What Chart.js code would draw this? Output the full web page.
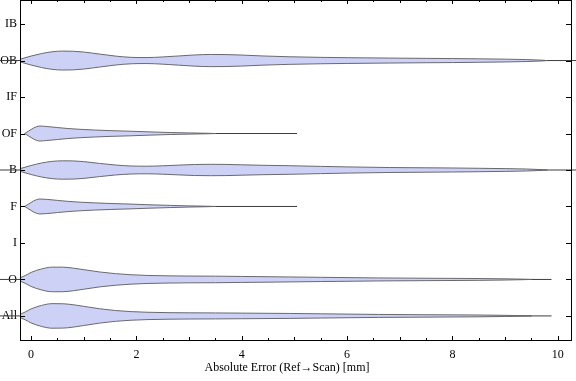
<!DOCTYPE html>
<html>
<head>
<meta charset="utf-8">
<script src="https://cdn.jsdelivr.net/npm/chart.js@4"></script>
<style>
html,body{margin:0;padding:0;background:#fff;}
#wrap{width:576px;height:381px;}
</style>
</head>
<body>
<div id="wrap"><canvas id="c" width="576" height="381"></canvas></div>
<script>
// ---- data ----
const categories = ['All','O','I','F','B','OF','IF','OB','IB'];
const xTickLabels = [0,2,4,6,8,10];
const axisTitle = 'Absolute Error (Ref\u2192Scan) [mm]';

// violin sample positions (mm) and half-widths (category units)
const obX   = [-0.3,-0.2,0,0.2,0.4,0.6,0.8,1.0,1.3,1.6,1.9,2.2,2.5,2.8,3.1,3.4,3.7,4.0,4.4,4.9,5.5,6.0,6.8,7.5,8.0,8.5,9.0,9.4,9.7,9.8];
const obHalf= [0,0.041,0.123,0.192,0.241,0.260,0.255,0.233,0.178,0.123,0.088,0.082,0.099,0.126,0.153,0.167,0.164,0.151,0.126,0.104,0.088,0.079,0.068,0.060,0.055,0.047,0.038,0.027,0.011,0];
const bX    = obX;
const bHalf = [0,0.041,0.123,0.192,0.236,0.252,0.249,0.230,0.181,0.137,0.110,0.104,0.115,0.134,0.151,0.156,0.153,0.142,0.129,0.118,0.099,0.085,0.068,0.060,0.055,0.047,0.038,0.027,0.011,0];
const oX    = [-0.3,-0.2,-0.1,0,0.2,0.4,0.6,0.8,1.0,1.3,1.6,1.9,2.2,2.6,3.0,3.5,4.0,4.9,5.5,6.6,7.5,8.5,9.0,9.3,9.5];
const oHalf = [0,0.049,0.115,0.192,0.288,0.337,0.337,0.310,0.268,0.205,0.159,0.129,0.110,0.099,0.093,0.090,0.082,0.068,0.058,0.041,0.033,0.025,0.016,0.008,0];
const allX  = oX;
const allHalf=[0,0.049,0.115,0.192,0.288,0.337,0.334,0.307,0.263,0.197,0.148,0.118,0.101,0.090,0.085,0.082,0.077,0.068,0.058,0.041,0.033,0.025,0.016,0.008,0];
const ofX   = [-0.12,0,0.1,0.17,0.3,0.5,0.7,0.93,1.2,1.5,1.88,2.2,2.64,3.0,3.3,3.5];
const ofHalf= [0,0.110,0.186,0.205,0.192,0.164,0.137,0.115,0.096,0.079,0.063,0.047,0.027,0.016,0.008,0];
const fX    = ofX;
const fHalf = [0,0.110,0.186,0.205,0.195,0.167,0.140,0.118,0.099,0.082,0.066,0.049,0.030,0.016,0.008,0];
// whisker line extent (mm)
const obRange  = [-0.59, 10.4];
const bRange   = [-0.59, 10.4];
const oRange   = [-0.59, 9.88];
const allRange = [-0.59, 9.88];
const ofRange  = [-0.12, 5.05];
const fRange   = [-0.12, 5.05];

const violins = [
  {cat:'All', xs:allX, half:allHalf, range:allRange},
  {cat:'O',   xs:oX,   half:oHalf,   range:oRange},
  {cat:'F',   xs:fX,   half:fHalf,   range:fRange},
  {cat:'B',   xs:bX,   half:bHalf,   range:bRange},
  {cat:'OF',  xs:ofX,  half:ofHalf,  range:ofRange},
  {cat:'OB',  xs:obX,  half:obHalf,  range:obRange}
];

const FILL = 'rgb(204,209,245)';
const EDGE = 'rgb(105,105,110)';
const MID  = 'rgb(60,60,60)';
const FONT = "'Liberation Serif', 'DejaVu Serif', serif";

const datasets = [];
violins.forEach(v => {
  const c = categories.indexOf(v.cat);
  datasets.push({
    data: v.xs.map((x,i)=>({x:x, y:c + v.half[i]})),
    borderColor: EDGE, borderWidth: 1, pointRadius: 0, fill: false,
    cubicInterpolationMode: 'monotone', order: 1
  });
  datasets.push({
    data: v.xs.map((x,i)=>({x:x, y:c - v.half[i]})),
    borderColor: EDGE, borderWidth: 1, pointRadius: 0,
    backgroundColor: FILL, fill: '-1',
    cubicInterpolationMode: 'monotone', order: 1
  });
});
violins.forEach(v => {
  const c = categories.indexOf(v.cat);
  datasets.push({
    data: [{x:v.range[0], y:c}, {x:v.range[1], y:c}],
    borderColor: MID, borderWidth: 1, pointRadius: 0, fill: false,
    clip: false, order: 5
  });
});

const framePlugin = {
  id: 'frame',
  afterDraw(chart) {
    const ctx = chart.ctx, a = chart.chartArea;
    const xs = chart.scales.x, ys = chart.scales.y;
    ctx.save();
    ctx.strokeStyle = '#000';
    ctx.lineWidth = 1;
    ctx.strokeRect(a.left + 0.5, a.top + 0.5, a.right - a.left, a.bottom - a.top);
    ctx.beginPath();
    for (let k = 0; k <= 20; k++) {
      const v = k * 0.5;
      const px = Math.round(xs.getPixelForValue(v)) + 0.5;
      const len = (k % 4 === 0) ? 4 : (k % 2 === 0 ? 3 : 2);
      ctx.moveTo(px, a.bottom); ctx.lineTo(px, a.bottom - len);
      ctx.moveTo(px, a.top); ctx.lineTo(px, a.top + len);
    }
    categories.forEach((c, i) => {
      const py = Math.round(ys.getPixelForValue(i)) + 0.5;
      ctx.moveTo(a.left, py); ctx.lineTo(a.left + 5, py);
      ctx.moveTo(a.right, py); ctx.lineTo(a.right - 5, py);
    });
    ctx.stroke();
    ctx.fillStyle = '#000';
    ctx.font = "12px " + FONT;
    ctx.textAlign = 'center';
    ctx.textBaseline = 'middle';
    ctx.fillText(axisTitle, 287, 368);
    ctx.restore();
  }
};

new Chart(document.getElementById('c'), {
  type: 'line',
  data: { datasets },
  options: {
    responsive: false,
    animation: false,
    layout: { padding: { left: 0, right: 5, top: 0, bottom: 0 } },
    plugins: { legend: { display: false }, tooltip: { enabled: false } },
    scales: {
      x: {
        type: 'linear', min: -0.21, max: 10.25,
        grid: { display: false, drawTicks: false }, border: { display: false },
        afterBuildTicks: s => { s.ticks = xTickLabels.map(v => ({value: v})); },
        afterFit: s => { s.height = 41; s.paddingLeft = 0; s.paddingRight = 0; },
        ticks: { font: { family: FONT, size: 12 }, color: '#000', padding: 8, maxRotation: 0,
                 callback: v => String(v) }
      },
      y: {
        type: 'linear', min: -0.66, max: 8.66,
        grid: { display: false, drawTicks: false }, border: { display: false },
        afterBuildTicks: s => { s.ticks = categories.map((c, i) => ({value: i})); },
        afterFit: s => { s.width = 20; s.paddingTop = 0; s.paddingBottom = 0; },
        ticks: { font: { family: FONT, size: 12 }, color: '#000', padding: 3,
                 callback: v => categories[Math.round(v)] }
      }
    }
  },
  plugins: [framePlugin]
});
</script>
</body>
</html>
